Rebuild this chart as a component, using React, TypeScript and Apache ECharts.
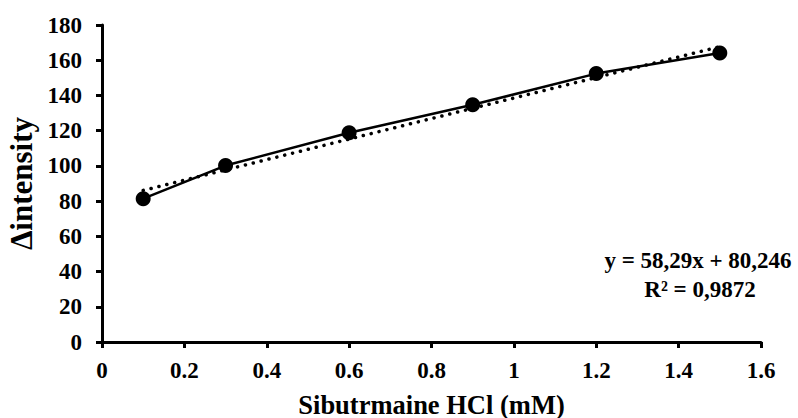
import React, { useEffect, useRef } from "react";
import * as echarts from "echarts";

const concentrations = [0.1, 0.3, 0.6, 0.9, 1.2, 1.5];
const intensities = [81.4, 100.2, 118.8, 134.7, 152.4, 164.1];
const trendSlope = 58.29;
const trendIntercept = 80.246;
const equationLabel = "y = 58,29x + 80,246";
const r2Label = "R² = 0,9872";
const xTitle = "Sibutrmaine HCl (mM)";
const yTitle = "Δintensity";

const FONT = "Liberation Serif";

export default function App() {
  const ref = useRef<HTMLDivElement>(null);
  useEffect(() => {
    if (!ref.current) return;
    const chart = echarts.init(ref.current, undefined, { renderer: "svg" });
    const points = concentrations.map((x, i) => [x, intensities[i]]);
    const xFirst = concentrations[0];
    const xLast = concentrations[concentrations.length - 1];
    const trend = [
      [xFirst, trendSlope * xFirst + trendIntercept],
      [xLast, trendSlope * xLast + trendIntercept],
    ];
    const tick = { fontFamily: FONT, fontWeight: "bold" as const, fontSize: 23, color: "#000" };
    chart.setOption({
      animation: false,
      backgroundColor: "#ffffff",
      grid: {
        left: 102,
        right: 37,
        top: 25,
        bottom: 76,
        containLabel: false,
        outerBoundsMode: "none",
      },
      xAxis: {
        type: "value",
        min: 0,
        max: 1.6,
        interval: 0.2,
        name: xTitle,
        nameLocation: "middle",
        nameGap: 49,
        nameTextStyle: { ...tick, fontSize: 26.5 },
        axisLine: { show: true, lineStyle: { color: "#000", width: 3 } },
        axisTick: { show: true, inside: false, length: 6, lineStyle: { color: "#000", width: 3 } },
        axisLabel: {
          ...tick,
          margin: 17,
          formatter: (v: number) => String(Math.round(v * 10) / 10),
        },
        splitLine: { show: false },
      },
      yAxis: {
        type: "value",
        min: 0,
        max: 180,
        interval: 20,
        name: yTitle,
        nameLocation: "middle",
        nameGap: 63,
        nameRotate: 90,
        nameTextStyle: { ...tick, fontSize: 31 },
        axisLine: { show: true, lineStyle: { color: "#000", width: 3 } },
        axisTick: { show: true, inside: false, length: 6, lineStyle: { color: "#000", width: 3 } },
        axisLabel: { ...tick, margin: 20 },
        splitLine: { show: false },
      },
      series: [
        {
          type: "line",
          data: trend,
          symbol: "none",
          lineStyle: { color: "#000", width: 3.5, type: [0.1, 8], cap: "round" },
          z: 2,
        },
        {
          type: "line",
          data: points,
          symbol: "circle",
          symbolSize: 15,
          itemStyle: { color: "#000" },
          lineStyle: { color: "#000", width: 2.5 },
          z: 3,
        },
      ],
      graphic: [
        {
          type: "text",
          x: 698,
          y: 260,
          style: {
            text: equationLabel,
            font: `bold 23px ${FONT}`,
            fill: "#000",
            align: "center",
            verticalAlign: "middle",
          },
        },
        {
          type: "text",
          x: 700,
          y: 289,
          style: {
            text: r2Label,
            font: `bold 23px ${FONT}`,
            fill: "#000",
            align: "center",
            verticalAlign: "middle",
          },
        },
      ],
    });
    return () => chart.dispose();
  }, []);
  return (
    <div
      ref={ref}
      style={{ position: "fixed", left: 0, top: 0, width: 798, height: 418 }}
    />
  );
}
